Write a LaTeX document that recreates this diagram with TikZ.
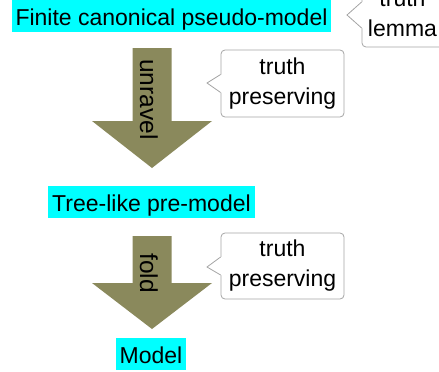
\documentclass[tikz,border=0pt]{standalone}
\usepackage{fontspec}
\setmainfont{Liberation Sans}
\usetikzlibrary{calc}
\definecolor{olivearrow}{RGB}{138,137,92}
\definecolor{calloutgray}{RGB}{165,165,165}
\definecolor{labelcyan}{RGB}{0,255,255}
\begin{document}
\begin{tikzpicture}[x=1pt,y=-1pt,
  labelbox/.style={fill=labelcyan, inner xsep=4pt, inner ysep=5pt, text height=20.5pt,
    text depth=1.5pt, font=\fontsize{23}{28}\selectfont, anchor=base},
  callout/.style={draw=calloutgray, line width=0.8pt, rounded corners=4pt, fill=white,
    align=center, font=\fontsize{23}{30}\selectfont, inner sep=0pt},
  pointer/.style={draw=calloutgray, line width=0.8pt},
  vlabel/.style={rotate=-90, anchor=base west, inner sep=0pt, font=\fontsize{24.5}{28}\selectfont},
  bigarrow/.style={fill=olivearrow}]
\useasboundingbox (0,0) rectangle (439,372);
\clip (0,0) rectangle (439,372);

% labelled states
\node[labelbox] (fin) at (171.5,25) {Finite canonical pseudo-model};
\node[labelbox] (tree) at (151.5,211) {Tree-like pre-model};
\node[labelbox] (model) at (151,363) {Model};

% big arrows
\coordinate (a1s) at (152,48);
\coordinate (a1e) at (152,168);
\fill[bigarrow] ($(a1s)+(-19.5,0)$) -- ($(a1s)+(19.5,0)$) -- ($(a1s)+(19.5,73)$)
  -- ($(a1s)+(60,73)$) -- (a1e) -- ($(a1s)+(-60,73)$) -- ($(a1s)+(-19.5,73)$) -- cycle;
\coordinate (a2s) at (152,236);
\coordinate (a2e) at (152,329);
\fill[bigarrow] ($(a2s)+(-19.5,0)$) -- ($(a2s)+(19.5,0)$) -- ($(a2s)+(19.5,47)$)
  -- ($(a2s)+(60,47)$) -- (a2e) -- ($(a2s)+(-60,47)$) -- ($(a2s)+(-19.5,47)$) -- cycle;

\node[vlabel] (unr) at (140,59) {unravel};
\node[vlabel] (fold) at (140,253) {fold};

% callouts
\node[callout, minimum width=123pt, minimum height=67pt] (c1) at (282.5,83.5) {truth\\preserving};
\coordinate (t1) at (207,83);
\fill[white] (t1) -- ($(c1.west)+(0,-9)$) -- ($(c1.west)+(1.5,-9)$) -- ($(c1.west)+(1.5,9)$) -- ($(c1.west)+(0,9)$) -- cycle;
\draw[pointer] ($(c1.west)+(0,-9)$) -- (t1) -- ($(c1.west)+(0,9)$);

\node[callout, minimum width=123pt, minimum height=66pt] (c2) at (282.5,266) {truth\\preserving};
\coordinate (t2) at (207,267);
\fill[white] (t2) -- ($(c2.west)+(0,-9)$) -- ($(c2.west)+(1.5,-9)$) -- ($(c2.west)+(1.5,9)$) -- ($(c2.west)+(0,9)$) -- cycle;
\draw[pointer] ($(c2.west)+(0,-9)$) -- (t2) -- ($(c2.west)+(0,9)$);

\node[callout, minimum width=81pt, minimum height=68pt] (c3) at (402.5,13) {truth\\lemma};
\coordinate (t3) at (347,15);
\fill[white] (t3) -- ($(c3.west)+(0,-11)$) -- ($(c3.west)+(1.5,-11)$) -- ($(c3.west)+(1.5,15)$) -- ($(c3.west)+(0,15)$) -- cycle;
\draw[pointer] ($(c3.west)+(0,-11)$) -- (t3) -- ($(c3.west)+(0,15)$);
\end{tikzpicture}
\end{document}
